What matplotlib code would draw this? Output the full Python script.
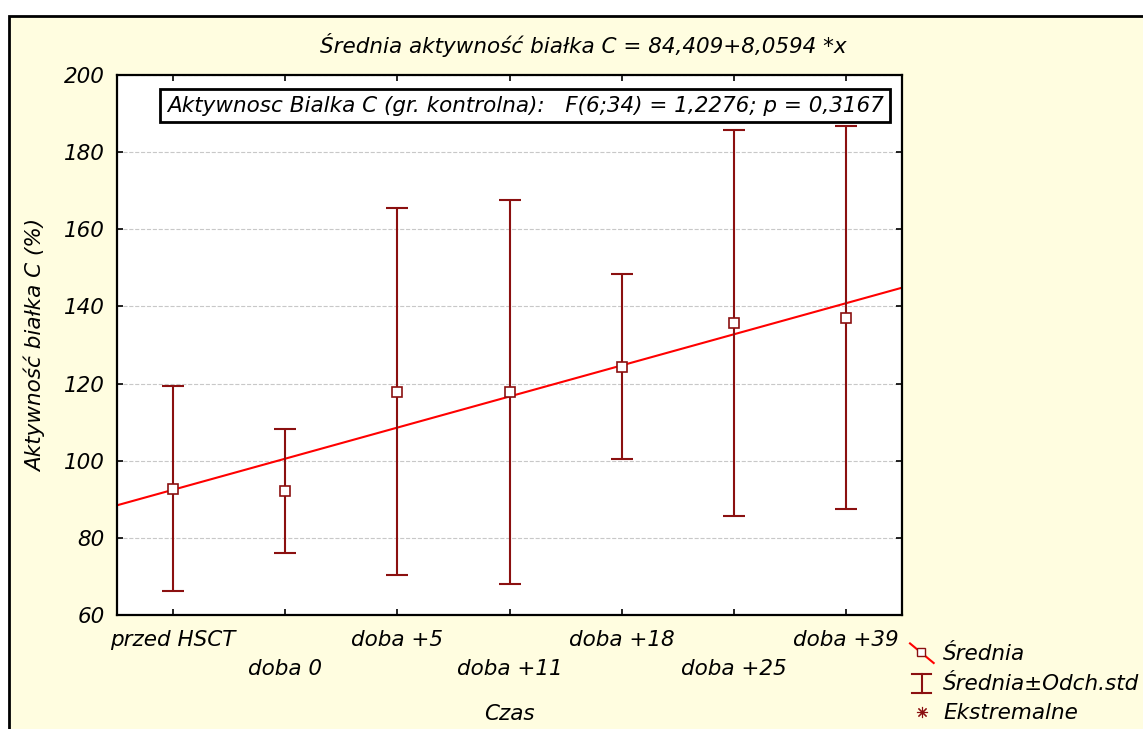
import matplotlib
matplotlib.use("Agg")
import matplotlib.pyplot as plt
import matplotlib.patches as patches
from matplotlib.lines import Line2D
from matplotlib.legend_handler import HandlerBase
import numpy as np

plt.rcParams["font.family"] = ["DejaVu Sans"]
plt.rcParams["font.style"] = "italic"
plt.rcParams["font.size"] = 15.5

# dane
kategorie = ["przed HSCT", "doba 0", "doba +5", "doba +11", "doba +18", "doba +25", "doba +39"]
srednie = [92.7, 92.1, 117.9, 117.8, 124.4, 135.7, 137.1]
odch_std = [26.6, 16.1, 47.5, 49.8, 24.0, 50.1, 49.6]
b0, b1 = 84.409, 8.0594  # regresja: srednia = b0 + b1*x, x = 1..7

ciemny = "#8B1010"
FS = 15.5
x = np.arange(len(kategorie))

fig = plt.figure(figsize=(11.43, 7.29), dpi=100)
fig.patch.set_facecolor("white")
tlo = patches.Rectangle((9 / 1143, -0.01), 1.0, (729 - 16) / 729 + 0.01,
                        transform=fig.transFigure, facecolor="#FFFDE0",
                        edgecolor="black", linewidth=2, zorder=-10)
fig.patches.append(tlo)

ax = fig.add_axes([117 / 1143, 114 / 729, 785 / 1143, 540 / 729])
ax.set_facecolor("white")

# linia regresji
xr = np.array([-0.5, len(kategorie) - 0.5])
ax.plot(xr, b0 + b1 * (xr + 1), color="red", lw=1.5, zorder=2)

# srednia +- odch. std
ax.errorbar(x, srednie, yerr=odch_std, fmt="none", ecolor=ciemny,
            elinewidth=1.5, capsize=8, capthick=1.5, zorder=3)
ax.plot(x, srednie, ls="none", marker="s", ms=7.5, mfc="white",
        mec=ciemny, mew=1.2, zorder=4)

ax.set_xlim(-0.5, len(kategorie) - 0.5)
ax.set_ylim(60, 200)
ax.set_yticks(np.arange(60, 201, 20))
ax.set_xticks(x)
ax.set_xticklabels([k if i % 2 == 0 else "\n" + k for i, k in enumerate(kategorie)],
                   linespacing=1.55)
ax.yaxis.grid(True, ls="--", color="#c8c8c8", lw=0.8)
ax.set_axisbelow(True)
ax.tick_params(direction="in", top=True, right=True, length=4, width=1.2,
               labelsize=FS)
ax.tick_params(axis="x", pad=11)
ax.tick_params(axis="y", pad=9)
for s in ax.spines.values():
    s.set_linewidth(1.6)

fig.text(583 / 1143, (729 - 45) / 729, "Średnia aktywność białka C = 84,409+8,0594 *x",
         ha="center", va="center", fontsize=FS)
ax.set_ylabel("Aktywność białka C (%)", fontsize=FS)
ax.yaxis.set_label_coords(-0.09, 0.5)
ax.set_xlabel("Czas", fontsize=FS)
ax.xaxis.set_label_coords(0.5, -0.164)

ax.text(0.52, 0.943,
        "Aktywnosc Bialka C (gr. kontrolna):   F(6;34) = 1,2276; p = 0,3167",
        transform=ax.transAxes, ha="center", va="center", fontsize=FS,
        bbox=dict(boxstyle="square,pad=0.3", fc="white", ec="black", lw=2))


class HandlerSrednia(HandlerBase):
    def create_artists(self, legend, orig_handle, xdescent, ydescent,
                       width, height, fontsize, trans):
        x0, y0 = -xdescent, -ydescent
        l = Line2D([x0, x0 + width], [y0 + height * 1.1, y0 - height * 0.2],
                   color="red", lw=1.5, transform=trans)
        m = Line2D([x0 + width * 0.45], [y0 + height * 0.55], marker="s", ms=6,
                   mfc="white", mec=ciemny, mew=1, ls="none", transform=trans)
        return [l, m]


class HandlerOdch(HandlerBase):
    def create_artists(self, legend, orig_handle, xdescent, ydescent,
                       width, height, fontsize, trans):
        x0, y0 = -xdescent, -ydescent
        xc = x0 + width / 2
        a = Line2D([xc, xc], [y0 - height * 0.2, y0 + height * 1.05], color=ciemny, lw=1.5, transform=trans)
        b = Line2D([xc - width * 0.4, xc + width * 0.4], [y0 + height * 1.05] * 2, color=ciemny, lw=1.5, transform=trans)
        c = Line2D([xc - width * 0.4, xc + width * 0.4], [y0 - height * 0.2] * 2, color=ciemny, lw=1.5, transform=trans)
        return [a, b, c]


h1 = Line2D([], [])
h2 = Line2D([], [], color=ciemny)
h3 = Line2D([], [], ls="none", marker=(8, 2, 0), ms=8, color=ciemny, mew=0.8)
fig.legend([h1, h2, h3], ["Średnia", "Średnia±Odch.std", "Ekstremalne"],
           loc="upper left", bbox_to_anchor=(910 / 1143, (729 - 644) / 729),
           frameon=False, fontsize=FS, handlelength=1.1, handletextpad=0.45,
           labelspacing=0.45, borderpad=0, borderaxespad=0,
           handler_map={h1: HandlerSrednia(), h2: HandlerOdch()})

fig.savefig("out.png", dpi=100, facecolor=fig.get_facecolor())
